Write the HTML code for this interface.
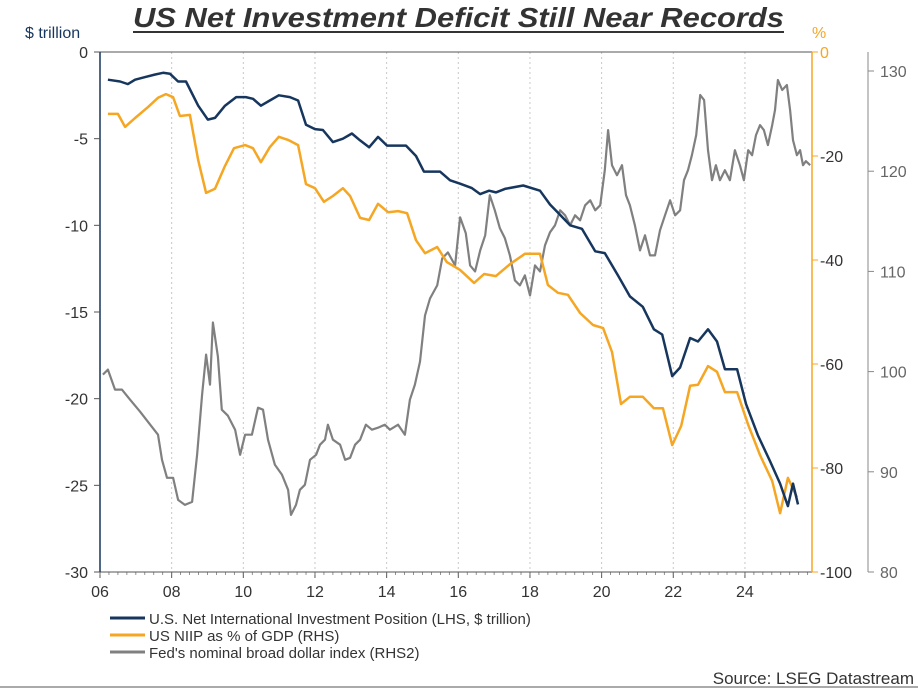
<!DOCTYPE html>
<html><head><meta charset="utf-8">
<style>
body{margin:0;background:#fff;font-family:"Liberation Sans",sans-serif;}
svg text{font-family:"Liberation Sans",sans-serif;}
</style></head>
<body>
<svg id="chart" width="918" height="689" xmlns="http://www.w3.org/2000/svg">
<text x="133" y="27" textLength="651" lengthAdjust="spacingAndGlyphs" font-size="28" font-weight="bold" font-style="italic" fill="#333">US Net Investment Deficit Still Near Records</text>
<line x1="133" y1="32" x2="784" y2="32" stroke="#333" stroke-width="2"/>
<text x="25" y="38" font-size="16" fill="#17365d">$ trillion</text>
<text x="812" y="38" font-size="16" fill="#f5a623">%</text>
<g id="grid"></g>
<g id="axes"></g>
<g id="series"></g>
<g>
 <g><line x1="110" y1="618" x2="145" y2="618" stroke="#17365d" stroke-width="3"/><text x="149" y="624" font-size="15" fill="#333">U.S. Net International Investment Position (LHS, $ trillion)</text></g>
 <g><line x1="110" y1="635" x2="145" y2="635" stroke="#f5a623" stroke-width="3"/><text x="149" y="641" font-size="15" fill="#333">US NIIP as % of GDP (RHS)</text></g>
 <g><line x1="110" y1="652" x2="145" y2="652" stroke="#808080" stroke-width="3"/><text x="149" y="658" font-size="15" fill="#333">Fed's nominal broad dollar index (RHS2)</text></g>
</g>
<text x="914" y="684" text-anchor="end" font-size="17" fill="#333">Source: LSEG Datastream</text>
<line x1="0" y1="687" x2="918" y2="687" stroke="#aaa" stroke-width="2"/>
</svg>
<script>
const navyYears=[0.22,0.56,0.78,0.98,1.26,1.54,1.76,1.95,2.18,2.40,2.74,3.01,3.21,3.49,3.80,4.07,4.27,4.49,4.74,4.99,5.30,5.53,5.75,6.00,6.22,6.50,6.78,7.03,7.26,7.51,7.76,8.01,8.26,8.54,8.82,9.04,9.49,9.77,10.05,10.38,10.61,10.86,11.05,11.30,11.81,12.28,12.56,12.84,13.12,13.45,13.82,14.09,14.46,14.79,15.15,15.46,15.69,15.97,16.19,16.47,16.69,16.97,17.22,17.44,17.78,18.03,18.36,18.70,18.98,19.20,19.34,19.48];
const navyValues=[-1.6,-1.7,-1.85,-1.6,-1.45,-1.3,-1.2,-1.25,-1.7,-1.7,-3.1,-3.9,-3.8,-3.1,-2.6,-2.6,-2.7,-3.1,-2.8,-2.5,-2.6,-2.8,-4.2,-4.45,-4.5,-5.2,-5.0,-4.7,-5.1,-5.5,-4.9,-5.4,-5.4,-5.4,-6.0,-6.9,-6.9,-7.4,-7.6,-7.85,-8.2,-8.0,-8.1,-7.9,-7.7,-8.0,-8.8,-9.4,-10.0,-10.2,-11.5,-11.6,-12.9,-14.1,-14.7,-16.0,-16.3,-18.7,-18.2,-16.5,-16.7,-16.0,-16.7,-18.3,-18.3,-20.3,-22.1,-23.6,-24.9,-26.2,-24.9,-26.1];
const pctYears=[0.22,0.50,0.70,0.98,1.34,1.62,1.84,2.04,2.23,2.51,2.74,2.96,3.21,3.49,3.74,4.05,4.27,4.49,4.74,4.99,5.25,5.53,5.75,6.00,6.25,6.50,6.78,6.98,7.26,7.51,7.76,8.04,8.32,8.57,8.82,9.07,9.41,9.68,10.05,10.44,10.72,11.05,11.44,11.86,12.28,12.50,12.78,13.06,13.40,13.76,14.04,14.29,14.54,14.79,15.15,15.46,15.71,15.97,16.22,16.47,16.69,16.97,17.22,17.44,17.78,18.09,18.42,18.76,18.98,19.20,19.45];
const pctValues=[-11.9,-11.9,-14.4,-12.7,-10.6,-8.8,-8.1,-8.7,-12.3,-12.1,-20.8,-27.1,-26.3,-21.9,-18.5,-17.9,-18.5,-21.2,-18.3,-16.3,-16.9,-17.9,-25.4,-26.2,-28.8,-27.7,-26.2,-27.7,-31.9,-32.3,-29.2,-30.8,-30.6,-31,-36.2,-38.7,-37.5,-40.4,-41.9,-44.4,-42.7,-43.1,-40.8,-38.8,-38.8,-44.8,-46.3,-46.7,-50.2,-52.5,-53.1,-57.7,-67.7,-66.3,-66.3,-68.5,-68.5,-75.6,-71.9,-64.2,-64,-60.4,-61.5,-65.4,-65.4,-71.7,-77.5,-82.5,-88.7,-81.9,-85.6];
const dollarYears=[0.08,0.22,0.42,0.61,0.84,1.12,1.40,1.62,1.73,1.87,2.04,2.18,2.37,2.57,2.71,2.85,2.96,3.07,3.15,3.29,3.40,3.57,3.77,3.91,4.05,4.24,4.41,4.55,4.69,4.88,5.08,5.25,5.33,5.47,5.58,5.72,5.86,6.03,6.14,6.28,6.36,6.50,6.70,6.84,6.98,7.12,7.26,7.42,7.59,7.76,7.95,8.09,8.32,8.51,8.65,8.79,8.93,9.07,9.21,9.41,9.55,9.71,9.91,10.05,10.21,10.33,10.47,10.61,10.75,10.88,11.02,11.16,11.30,11.44,11.58,11.72,11.86,12.00,12.14,12.28,12.42,12.56,12.70,12.84,12.98,13.12,13.26,13.40,13.54,13.68,13.82,13.96,14.09,14.18,14.29,14.43,14.57,14.68,14.79,14.93,15.07,15.21,15.35,15.49,15.63,15.77,15.91,16.05,16.19,16.30,16.41,16.52,16.64,16.75,16.86,16.97,17.08,17.19,17.30,17.44,17.58,17.72,17.86,17.97,18.09,18.20,18.31,18.42,18.53,18.64,18.76,18.84,18.92,19.04,19.17,19.26,19.34,19.45,19.54,19.62,19.70,19.82];
const dollarValues=[99.7,100.2,98.2,98.2,97.2,96,94.7,93.7,91.2,89.4,89.4,87.2,86.7,87,91.7,97.7,101.7,98.7,104.9,101.5,96.2,95.6,94.2,91.7,93.7,93.7,96.4,96.2,93.2,90.7,89.7,88.2,85.7,86.7,88.2,88.7,91.2,91.7,92.7,93.2,94.7,93.2,92.7,91.2,91.4,92.7,93.2,94.7,94.2,94.4,94.7,94.2,94.7,93.7,97.2,98.7,101,105.6,107.3,108.6,111.3,111.9,110.6,115.4,113.8,110.6,110,112.1,113.6,117.6,116.1,114.3,113.3,111.6,109.1,108.6,109.6,107.6,110.6,110,112.6,113.9,114.6,116.1,115.6,114.6,115.6,115.1,116.6,117.1,116.1,116.6,120.1,124.1,120.6,119.6,120.6,117.6,116.6,114.6,112.1,113.6,111.6,111.6,114.1,115.6,117.1,115.6,116.1,119.1,120.1,121.6,123.6,127.6,127.1,122.1,119.1,120.6,119.1,120.1,119.1,122.1,120.6,119.1,122.1,121.6,123.6,124.6,124.1,122.6,124.6,126.1,129.1,128.1,128.6,126.1,123.1,121.6,122.1,120.6,121,120.6];
const xTickLabels=["06","08","10","12","14","16","18","20","22","24"];
const leftTicks=[0,-5,-10,-15,-20,-25,-30];
const pctTicks=[0,-20,-40,-60,-80,-100];
const dollarTicks=[130,120,110,100,90,80];

const NS="http://www.w3.org/2000/svg";
const X0=100,PXY=35.83;
const x=y=>X0+y*PXY;
const yL=v=>52+(-v)*520/30;
const yP=v=>52+(-v)*5.2;
const yD=v=>71+(130-v)*10.02;
function mk(tag,attrs,parent,txt){const e=document.createElementNS(NS,tag);for(const k in attrs)e.setAttribute(k,attrs[k]);if(txt!==undefined)e.textContent=txt;parent.appendChild(e);return e;}
const grid=document.getElementById('grid'),axes=document.getElementById('axes'),series=document.getElementById('series');
xTickLabels.forEach((l,i)=>{const px=x(i*2);
 if(i>0){const g=mk('line',{x1:px,y1:52,x2:px,y2:572,stroke:'#c8c8c8','stroke-dasharray':'2,3'},grid);
 
 }
 const t=mk('text',{x:px,y:597,'text-anchor':'middle','font-size':16,fill:'#333'},axes,l);
 
 
 mk('line',{x1:px,y1:572,x2:px,y2:578,stroke:'#555'},axes);
});
for(let m=0;m<=19.8;m+=0.25){mk('line',{x1:x(m),y1:572,x2:x(m),y2:575,stroke:'#777','stroke-width':0.8},axes);}
mk('line',{x1:100,y1:572,x2:812,y2:572,stroke:'#555'},axes);
mk('line',{x1:100,y1:52,x2:812,y2:52,stroke:'#555'},axes);
mk('line',{x1:100,y1:52,x2:100,y2:572,stroke:'#17365d','stroke-width':1.5},axes);
leftTicks.forEach(v=>{const t=mk('text',{x:88,y:yL(v)+6,'text-anchor':'end','font-size':16,fill:'#333'},axes,v);
 
 
 mk('line',{x1:94,y1:yL(v),x2:100,y2:yL(v),stroke:'#555'},axes);});
mk('line',{x1:812,y1:52,x2:812,y2:572,stroke:'#f5a623','stroke-width':1.5},axes);
pctTicks.forEach(v=>{const t=mk('text',{x:820,y:yP(v)+6,'font-size':16,fill:v===0?'#f5a623':'#333'},axes,v);
 
 
 mk('line',{x1:812,y1:yP(v),x2:818,y2:yP(v),stroke:'#f5a623'},axes);});
mk('line',{x1:868,y1:52,x2:868,y2:572,stroke:'#888'},axes);
dollarTicks.forEach(v=>{const t=mk('text',{x:880,y:yD(v)+6,'font-size':16,fill:'#666'},axes,v);
 
 
 mk('line',{x1:868,y1:yD(v),x2:874,y2:yD(v),stroke:'#888'},axes);});
function line(ys,vs,fy,col,w,name){const d=ys.map((yy,i)=>(i?'L':'M')+x(yy).toFixed(1)+','+fy(vs[i]).toFixed(1)).join('');
 const p=mk('path',{d:d,fill:'none',stroke:col,'stroke-width':w,'stroke-linejoin':'round'},series);
 
 }
line(dollarYears,dollarValues,yD,'#808080',2.2,'dollar-index-line');
line(pctYears,pctValues,yP,'#f5a623',2.5,'niip-gdp-line');
line(navyYears,navyValues,yL,'#17365d',2.5,'niip-line');
</script>
</body></html>
